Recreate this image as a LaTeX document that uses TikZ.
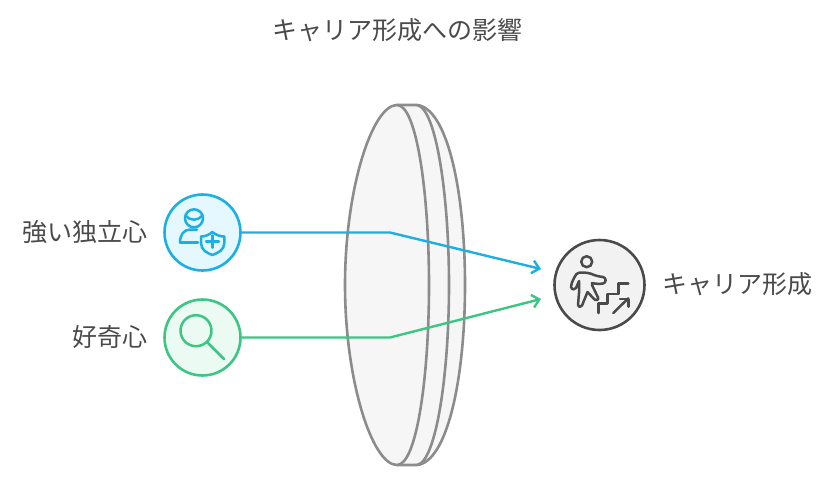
\documentclass[tikz,border=0pt]{standalone}
\usepackage{fontspec}
\setmainfont{Noto Sans CJK JP}
\usepackage{xcolor}
\usetikzlibrary{arrows.meta}
\definecolor{txtgray}{HTML}{4A4A4A}
\definecolor{lensgray}{HTML}{8C8C8C}
\definecolor{lensfill}{HTML}{F6F6F6}
\definecolor{indblue}{HTML}{1CB0E2}
\definecolor{indfill}{HTML}{E5F8FF}
\definecolor{curgreen}{HTML}{3CC583}
\definecolor{curfill}{HTML}{EBFBF3}
\definecolor{carfill}{HTML}{F2F2F2}
\tikzset{
  lbl/.style={text=txtgray,font=\fontsize{25}{30}\selectfont,inner sep=0pt},
  hub/.style={circle,line width=2.6pt,minimum size=#1,inner sep=0pt},
  lens/.style={draw=lensgray,line width=2.6pt,fill=lensfill,line join=round},
  link/.style={line width=2.4pt,-{Straight Barb[length=7pt,width=13pt,line width=2.4pt]},line join=round},
  icon/.style={line width=2.5pt,line cap=round,line join=round}
}
\begin{document}
\begin{tikzpicture}[x=1pt,y=-1pt]
\useasboundingbox (0,0) rectangle (840,482);
\node[lbl] (title) at (397,30) {キャリア形成への影響};
% lens
\draw[lens] (397,105)--(417,105) .. controls (447,108) and (465,190) .. (465,285)
  .. controls (465,380) and (447,462) .. (417,465)--(397,465)--cycle;
\draw[lens] (417,105) .. controls (436,108) and (449,195) .. (449,285)
  .. controls (449,375) and (436,462) .. (417,465);
\draw[lens] (397,105) .. controls (372,105) and (345,190) .. (345,285)
  .. controls (345,380) and (372,465) .. (397,465)
  .. controls (417,465) and (429,375) .. (429,285)
  .. controls (429,195) and (417,105) .. (397,105)--cycle;
% nodes
\node[hub=76pt,draw=indblue,fill=indfill] (ind) at (202.5,232.5) {};
\node[hub=76pt,draw=curgreen,fill=curfill] (cur) at (202.5,337.5) {};
\node[hub=90pt,draw=txtgray,fill=carfill] (car) at (599.5,285) {};
\node[lbl,anchor=east] (indlbl) at (148,232) {強い独立心};
\node[lbl,anchor=east] (curlbl) at (148,337) {好奇心};
\node[lbl,anchor=west] (carlbl) at (662,284) {キャリア形成};
% connectors
\coordinate (indbend) at (390,232.5);
\coordinate (curbend) at (390,337.5);
\coordinate (indend) at (541,269);
\coordinate (curend) at (541,299);
\draw[link,draw=indblue] (ind)--(indbend)--(indend);
\draw[link,draw=curgreen] (cur)--(curbend)--(curend);
% person with shield
\begin{scope}[icon,draw=indblue]
\draw (194,218.3) circle (9);
\draw (185.7,215.7) .. controls (190,221) and (198,221) .. (202.3,215.7);
\draw (180,242.3) .. controls (180,235) and (184,229.5) .. (190,229.5)--(197,229.5);
\draw (180,242.3)--(198,242.3);
\draw (212.3,232) .. controls (209,235) and (205,236.5) .. (201,236.5)--(201,243)
  .. controls (201,250) and (207,253) .. (212.3,255)
  .. controls (218,253) and (224.3,250) .. (224.3,243)--(224.3,236.5)
  .. controls (220,236.5) and (216,235) .. (212.3,232)--cycle;
\draw (212.3,235.5)--(212.3,247.7);
\draw (206,241.7)--(219,241.7);
\end{scope}
% magnifier
\begin{scope}[icon,draw=curgreen]
\draw (196,330.7) circle (15.5);
\draw (207.3,342.3)--(224,359);
\end{scope}
% climbing person
\begin{scope}[icon,draw=txtgray]
\draw (586.7,261.7) circle (5.5);
\draw (603,277) .. controls (599,276.5) and (597,276) .. (594,275)
  .. controls (590,273) and (586,272.5) .. (581,272.5)
  .. controls (577,272.5) and (575,275) .. (574,278)
  .. controls (572,282) and (571,285) .. (571,287) .. controls (572,290) and (575,290) .. (576,288)
  --(579,281)--(579,293)--(578,305) .. controls (578,307.5) and (581,307.5) .. (582,305.5)
  --(587.5,292)--(594,299) .. controls (596,301) and (599,300) .. (598,297.5)
  --(592,285)--(592,283) .. controls (596,284) and (600,284) .. (603,283.5)
  .. controls (606.5,283) and (606.5,277.5) .. (603,277);
\draw (598.3,313)--(598.3,303.3)--(607.7,303.3)--(607.7,294)--(618.3,294)--(618.3,283.3)--(628.3,283.3);
\draw (613.3,313)--(628.3,298.3);
\draw (620,299)--(628.3,299)--(628.3,306.7);
\end{scope}
\end{tikzpicture}
\end{document}
